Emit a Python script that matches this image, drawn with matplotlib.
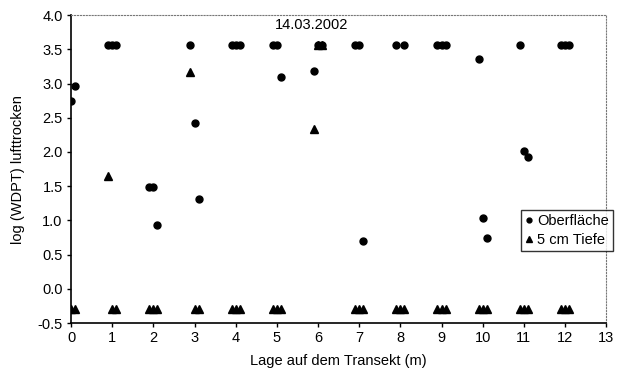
import matplotlib.pyplot as plt

plt.rcParams['font.family'] = ['Liberation Sans', 'DejaVu Sans']

# Oberfläche (Kreise)
x_ob = [0.0, 0.1, 0.9, 1.0, 1.1, 1.9, 2.0, 2.1, 2.9, 3.0, 3.1,
        3.9, 4.0, 4.1, 4.9, 5.0, 5.1, 5.9, 6.0, 6.1, 6.9, 7.0, 7.1,
        7.9, 8.1, 8.9, 9.0, 9.1, 9.9, 10.0, 10.1, 10.9, 11.0, 11.1,
        11.9, 12.0, 12.1]
y_ob = [2.75, 2.96, 3.556, 3.556, 3.556, 1.49, 1.49, 0.93, 3.556, 2.42, 1.31,
        3.556, 3.556, 3.556, 3.556, 3.556, 3.09, 3.19, 3.556, 3.556, 3.556, 3.556, 0.70,
        3.556, 3.556, 3.556, 3.556, 3.556, 3.36, 1.04, 0.74, 3.556, 2.02, 1.93,
        3.556, 3.556, 3.556]

# 5 cm Tiefe (Dreiecke)
x_5cm = [0.0, 0.1, 0.9, 1.0, 1.1, 1.9, 2.0, 2.1, 2.9, 3.0, 3.1,
         3.9, 4.0, 4.1, 4.9, 5.0, 5.1, 5.9, 6.0, 6.1, 6.9, 7.0, 7.1,
         7.9, 8.0, 8.1, 8.9, 9.0, 9.1, 9.9, 10.0, 10.1, 10.9, 11.0, 11.1,
         11.9, 12.0, 12.1]
y_5cm = [-0.3, -0.3, 1.65, -0.3, -0.3, -0.3, -0.3, -0.3, 3.17, -0.3, -0.3,
         -0.3, -0.3, -0.3, -0.3, -0.3, -0.3, 2.33, 3.556, 3.556, -0.3, -0.3, -0.3,
         -0.3, -0.3, -0.3, -0.3, -0.3, -0.3, -0.3, -0.3, -0.3, -0.3, -0.3, -0.3,
         -0.3, -0.3, -0.3]

fig = plt.figure(figsize=(6.23, 3.77), dpi=100)
ax = fig.add_axes([0.114, 0.143, 0.859, 0.817])

ax.plot(x_5cm, y_5cm, linestyle='none', marker='^', color='black',
        markersize=5.5, label='5 cm Tiefe')
ax.plot(x_ob, y_ob, linestyle='none', marker='o', color='black',
        markersize=5, label='Oberfläche')

ax.set_xlim(0, 13)
ax.set_ylim(-0.5, 4.0)
ax.set_xticks(range(0, 14))
ax.set_yticks([-0.5, 0.0, 0.5, 1.0, 1.5, 2.0, 2.5, 3.0, 3.5, 4.0])
ax.set_yticklabels(['-0.5', '0.0', '0.5', '1.0', '1.5', '2.0', '2.5', '3.0', '3.5', '4.0'])
ax.tick_params(direction='out', length=3, width=1, labelsize=10.5, pad=3)

for side in ['top', 'right']:
    ax.spines[side].set_linestyle(':')
    ax.spines[side].set_color('#777777')
    ax.spines[side].set_linewidth(0.8)
for side in ['left', 'bottom']:
    ax.spines[side].set_linewidth(1.2)

ax.set_xlabel('Lage auf dem Transekt (m)', fontsize=10.5, labelpad=6)
ax.set_ylabel('log (WDPT) lufttrocken', fontsize=10.5, labelpad=9)
ax.text(5.85, 3.96, '14.03.2002', ha='center', va='top', fontsize=10.5)

handles, labels = ax.get_legend_handles_labels()
leg = fig.legend(handles[::-1], labels[::-1], loc='upper right',
                 bbox_to_anchor=(0.984, 0.443), fontsize=10.5, frameon=True,
                 fancybox=False, edgecolor='black', handlelength=0.5,
                 handletextpad=0.3, borderpad=0.3, labelspacing=0.3,
                 borderaxespad=0, markerscale=0.7)
leg.get_frame().set_linewidth(1.0)

fig.savefig('out.png', dpi=100)
